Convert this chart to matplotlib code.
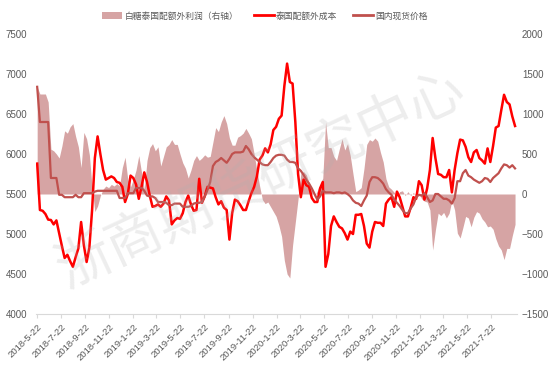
import matplotlib
matplotlib.use('Agg')
import matplotlib.pyplot as plt
import pandas as pd
from matplotlib.patches import Patch
from matplotlib.lines import Line2D

# ---------------- data (weekly, starting 2018-05-22) ----------------
start_date = '2018-05-22'

cost = [
    5880, 5300, 5290, 5250, 5180, 5175, 5120, 5170, 5010, 4850,
    4700, 4740, 4660, 4590, 4710, 4820, 5150, 4860, 4650, 4830,
    5300, 5950, 6220, 6000, 5800, 5680, 5700, 5720, 5700, 5650,
    5640, 5590, 5400, 5500, 5730, 5700, 5620, 5440, 5590, 5770,
    5650, 5480, 5340, 5350, 5370, 5340, 5380, 5470, 5420, 5120,
    5170, 5200, 5190, 5260, 5400, 5480, 5370, 5290, 5300, 5690,
    5390, 5470, 5590, 5580, 5570, 5460, 5370, 5410, 5330, 5300,
    4930, 5260, 5430, 5410, 5360, 5300, 5300, 5410, 5510, 5590,
    5720, 5930, 5980, 6070, 6020, 6120, 6300, 6340, 6440, 6480,
    6850, 7130, 6900, 6880, 6400, 5750, 5460, 5680, 5610, 5590,
    5450, 5400, 5400, 5570, 5650, 4590, 4750, 5100, 5220, 5150,
    5090, 5070, 5010, 4930, 5030, 5000, 5240, 5240, 5250, 5100,
    4880, 4830, 5030, 5150, 5140, 5140, 5100, 5380, 5430, 5460,
    5340, 5530, 5460, 5340, 5220, 5220, 5330, 5460, 5440, 5660,
    5610, 5430, 5570, 5800, 6200, 5950, 5750, 5740, 5710, 5710,
    5800, 5520, 5800, 6010, 6180, 6170, 6090, 5960, 5900, 6020,
    6050, 5950, 5920, 5880, 6070, 5900, 6100, 6330, 6350, 6550,
    6740, 6650, 6620, 6470, 6350,
]

domestic = [
    6840, 6400, 6400, 6400, 6400, 5700, 5700, 5700, 5490, 5490,
    5460, 5460, 5460, 5460, 5490, 5460, 5460, 5510, 5510, 5510,
    5510, 5530, 5540, 5540, 5540, 5540, 5540, 5540, 5540, 5540,
    5450, 5450, 5450, 5510, 5510, 5510, 5575, 5575, 5575, 5540,
    5480, 5470, 5470, 5450, 5400, 5400, 5400, 5390, 5360, 5360,
    5380, 5380, 5380, 5340, 5340, 5340, 5350, 5380, 5390, 5390,
    5400, 5470, 5550, 5650, 5850, 5900, 5920, 5950, 5920, 5890,
    5940, 6000, 6020, 6020, 6020, 6030, 6100, 6060, 6000, 5960,
    5930, 5900, 5870, 5860, 5860, 5900, 5950, 5980, 5990, 5990,
    5980, 5930, 5900, 5900, 5890, 5820, 5790, 5740, 5680, 5630,
    5570, 5500, 5430, 5470, 5540, 5520, 5520, 5520, 5510, 5520,
    5520, 5510, 5520, 5500, 5470, 5420, 5390, 5380, 5350, 5420,
    5480, 5650, 5710, 5710, 5700, 5670, 5630, 5560, 5520, 5490,
    5430, 5390, 5350, 5300, 5260, 5260, 5320, 5370, 5460, 5490,
    5480, 5510, 5460, 5400, 5420, 5500, 5500, 5470, 5440, 5440,
    5420, 5380, 5450, 5660, 5660, 5760, 5800, 5730, 5710, 5680,
    5660, 5640, 5660, 5700, 5690, 5650, 5700, 5730, 5760, 5820,
    5870, 5860, 5830, 5860, 5820,
]

profit = [
    1340, 1250, 1250, 1250, 1150, 560, 540, 500, 450, 600,
    790, 760, 840, 880, 720, 590, 330, 770, 690, 490,
    80, -220, -150, -20, 60, 100, 80, 120, 100, 130,
    100, 330, 460, 180, 90, 180, 300, 480, 270, 60,
    420, 580, 630, 540, 590, 350, 470, 590, 620, 680,
    620, 620, 500, 390, 320, 200, 300, 420, 480, 420,
    450, 490, 460, 470, 650, 830, 780, 900, 980, 880,
    700, 610, 610, 710, 730, 760, 820, 760, 690, 500,
    290, 100, -70, -120, -100, -160, -220, -280, -390, -530,
    -830, -1000, -1050, -640, -350, -60, 260, 280, 240, 140,
    40, -30, 40, 110, 200, 900, 580, 580, 470, 420,
    560, 690, 550, 630, 480, 250, 30, 50, 80, 320,
    620, 680, 660, 700, 660, 520, 400, 190, 90, 60,
    20, -30, 30, 40, -20, 30, -20, 20, -30, 10,
    -60, -90, -100, -200, -700, -450, -240, -270, -230, -300,
    -240, -80, -200, -490, -550, -420, -280, -300, -410, -290,
    -220, -240, -310, -350, -410, -400, -440, -560, -650, -700,
    -820, -680, -680, -520, -380,
]

tick_labels = [
    '2018-5-22', '2018-7-22', '2018-9-22', '2018-11-22', '2019-1-22',
    '2019-3-22', '2019-5-22', '2019-7-22', '2019-9-22', '2019-11-22',
    '2020-1-22', '2020-3-22', '2020-5-22', '2020-7-22', '2020-9-22',
    '2020-11-22', '2021-1-22', '2021-3-22', '2021-5-22', '2021-7-22',
]

series_names = ['白糖泰国配额外利润（右轴）', '泰国配额外成本', '国内现货价格']
watermark = '浙商期货研究中心'

# ---------------- styling ----------------
AREA = '#d6a4a4'
RED = '#ff0000'
DARK = '#c0504d'
TXT = '#595959'
AXC = '#d9d9d9'

plt.rcParams['font.family'] = ['Liberation Sans', 'Noto Sans CJK SC', 'DejaVu Sans']

dates = pd.date_range(start_date, periods=len(cost), freq='7D')
tick_dates = pd.to_datetime(tick_labels, format='%Y-%m-%d')

fig = plt.figure(figsize=(5.5, 3.65), dpi=100)
ax = fig.add_axes([36 / 550, 1 - 314 / 365, 481 / 550, 280 / 365])
ax2 = ax.twinx()
ax.set_zorder(ax2.get_zorder() + 1)
ax.patch.set_visible(False)

ax2.fill_between(dates, 0, profit, color=AREA, lw=0)
ax.plot(dates, cost, color=RED, lw=1.8, solid_joinstyle='round')
ax.plot(dates, domestic, color=DARK, lw=1.6)

ax.set_ylim(4000, 7500)
ax2.set_ylim(-1500, 2000)
ax.set_yticks(range(4000, 7501, 500))
ax2.set_yticks(range(-1500, 2001, 500))
ax.set_xlim(dates[0] - pd.Timedelta(days=3), dates[0] + pd.Timedelta(days=1223))

for s in ax.spines.values():
    s.set_visible(False)
for s in ax2.spines.values():
    s.set_visible(False)
ax.spines['bottom'].set_visible(True)
ax.spines['bottom'].set_color(AXC)

ax.tick_params(axis='y', length=0, labelsize=7, labelcolor=TXT, pad=6.5)
ax2.tick_params(axis='y', length=0, labelsize=7, labelcolor=TXT, pad=3.5)
ax.set_xticks(tick_dates)
ax.set_xticklabels(tick_labels, rotation=45, ha='right', rotation_mode='anchor')
ax.tick_params(axis='x', length=3, color=AXC, labelsize=6.8, labelcolor=TXT, pad=3)

handles = [Patch(facecolor=AREA, edgecolor='none'),
           Line2D([], [], color=RED, lw=2),
           Line2D([], [], color=DARK, lw=2)]
leg = fig.legend(handles, series_names, loc='center',
                 bbox_to_anchor=(265 / 550, 1 - 16 / 365), ncol=3, frameon=False,
                 handlelength=2.3, handleheight=0.7,
                 columnspacing=1.8, handletextpad=0.25,
                 prop={'family': ['Noto Sans CJK SC', 'DejaVu Sans'], 'size': 6.3})
for t in leg.get_texts():
    t.set_color(TXT)

fig.text(0.476, 0.505, watermark, rotation=25, fontsize=40, color='#b0b0b0',
         alpha=0.22, ha='center', va='center',
         family=['Noto Sans CJK SC', 'DejaVu Sans'], fontweight='light', zorder=10)

fig.savefig('out.png', dpi=100)
